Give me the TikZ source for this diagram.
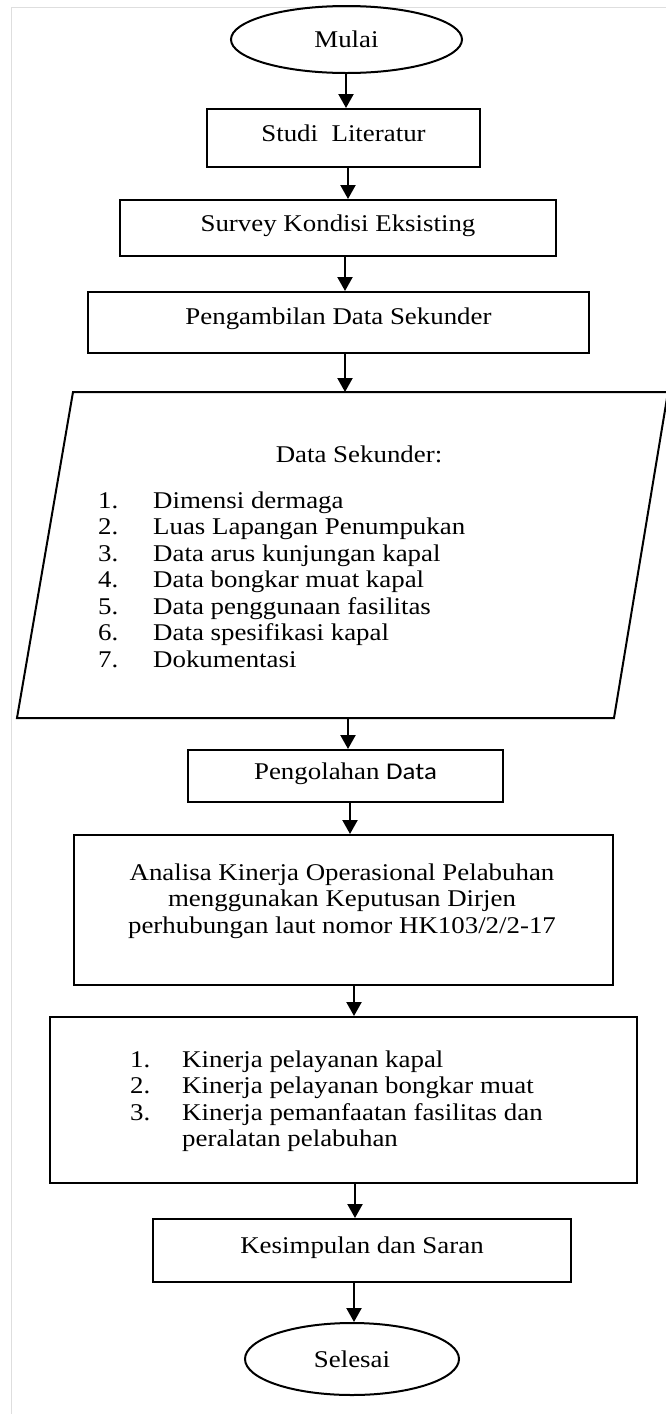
\documentclass[tikz,border=0pt]{standalone}
\usepackage{fontspec}
\setmainfont{Liberation Serif}[FakeStretch=1.12]
\newfontfamily\calfont{Carlito}[FakeStretch=1.12]
\usetikzlibrary{shapes.geometric,arrows.meta}
\begin{document}
\begin{tikzpicture}[x=1pt,y=-1pt,
  every node/.style={font=\fontsize{24}{26.5}\selectfont, inner sep=0pt},
  box/.style={draw, line width=2pt, rectangle, text height=16.5pt, text depth=9pt},
  term/.style={draw, line width=2pt, ellipse},
  arr/.style={line width=2.2pt, -{Triangle[width=15pt,length=14pt]}},
  frame/.style={draw=black!13, line width=1pt}]
\useasboundingbox (0,0) rectangle (666,1414);
\fill[white] (0,0) rectangle (666,1414);
\draw[frame] (11,1414) -- (11,7) -- (666,7);

% nodes
\node[term, minimum width=231pt, minimum height=67pt] (mulai) at (346.5,39.5) {Mulai};
\node[box, minimum width=273pt, minimum height=58pt] (studi) at (343.5,138) {Studi\ \ Literatur};
\node[box, minimum width=436pt, minimum height=56pt] (survey) at (338,228) {Survey Kondisi Eksisting};
\node[box, minimum width=501pt, minimum height=61pt, text depth=12pt] (ambil) at (338.5,322.5) {Pengambilan Data Sekunder};

% parallelogram (input data)
\draw[line width=2pt, line join=miter] (73,392) -- (668,392) -- (614,718) -- (17,718) -- cycle;
\coordinate (ptop) at (345,392);
\coordinate (pbot) at (348,718);
\node[anchor=base] (dstitle) at (359,462) {Data Sekunder:};
\node[anchor=base west] (dslist) at (98,508) {\begin{tabular}[t]{@{}p{55pt}@{}l@{}}
1. & Dimensi dermaga\\
2. & Luas Lapangan Penumpukan\\
3. & Data arus kunjungan kapal\\
4. & Data bongkar muat kapal\\
5. & Data penggunaan fasilitas\\
6. & Data spesifikasi kapal\\
7. & Dokumentasi
\end{tabular}};

\node[box, minimum width=315pt, minimum height=52pt] (olah) at (345.5,776) {Pengolahan {\calfont Data}};

\node[box, minimum width=539.5pt, minimum height=150pt] (analisa) at (343.25,910) {};
\node[anchor=base] (analisatxt) at (342,880) {\begin{tabular}[t]{@{}c@{}}
Analisa Kinerja Operasional Pelabuhan\\
menggunakan Keputusan Dirjen\\
perhubungan laut nomor HK103/2/2-17
\end{tabular}};

\node[box, minimum width=587pt, minimum height=166pt] (kinerja) at (343.5,1100) {};
\node[anchor=base west] (kinerjatxt) at (130,1067) {\begin{tabular}[t]{@{}p{52pt}@{}l@{}}
1. & Kinerja pelayanan kapal\\
2. & Kinerja pelayanan bongkar muat\\
3. & Kinerja pemanfaatan fasilitas dan\\
   & peralatan pelabuhan
\end{tabular}};

\node[box, minimum width=418pt, minimum height=63pt, text depth=11pt] (simpul) at (362,1250.5) {Kesimpulan dan Saran};
\node[term, minimum width=214pt, minimum height=72pt] (selesai) at (352,1359) {Selesai};

% connectors
\draw[arr] (mulai.south -| 346,0) -- (studi.north -| 346,0);
\draw[arr] (studi.south -| 348,0) -- (survey.north -| 348,0);
\draw[arr] (survey.south -| 345,0) -- (ambil.north -| 345,0);
\draw[arr] (ambil.south -| 345,0) -- (ptop);
\draw[arr] (pbot) -- (olah.north -| 348,0);
\draw[arr] (olah.south -| 350,0) -- (analisa.north -| 350,0);
\draw[arr] (analisa.south -| 354,0) -- (kinerja.north -| 354,0);
\draw[arr] (kinerja.south -| 355,0) -- (simpul.north -| 355,0);
\draw[arr] (simpul.south -| 354,0) -- (selesai.north -| 354,0);
\end{tikzpicture}
\end{document}
